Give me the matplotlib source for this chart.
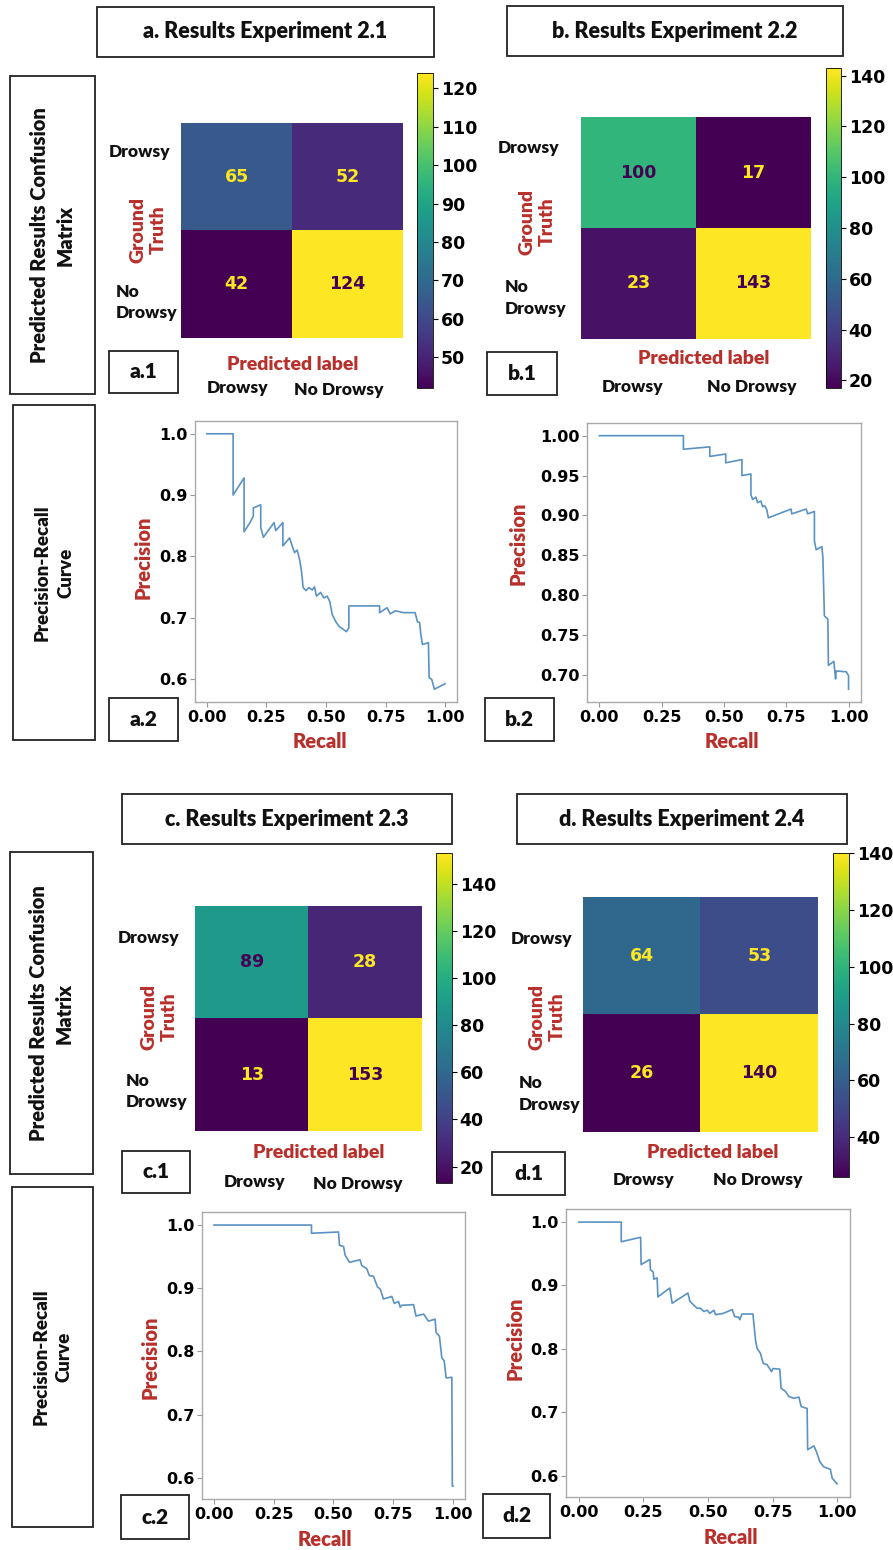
import numpy as np
import matplotlib
matplotlib.use("Agg")
import matplotlib.pyplot as plt
from matplotlib.patches import Rectangle
from matplotlib.ticker import MultipleLocator, StrMethodFormatter

plt.rcParams['font.family'] = ['DejaVu Sans']
plt.rcParams['font.weight'] = 'bold'

W, H = 893, 1550
RED = '#b8302c'
LINE = '#5a92c4'
LBL = ['Lato', 'DejaVu Sans']
WT = 'heavy'

# ---------------- data ----------------
titles = ["a. Results Experiment 2.1", "b. Results Experiment 2.2",
          "c. Results Experiment 2.3", "d. Results Experiment 2.4"]
class_labels = ["Drowsy", "No Drowsy"]

cm_21 = [[65, 52], [42, 124]]
cm_22 = [[100, 17], [23, 143]]
cm_23 = [[89, 28], [13, 153]]
cm_24 = [[64, 53], [26, 140]]

recall_21 = [0.000, 0.110, 0.110, 0.156, 0.156, 0.181, 0.195, 0.195, 0.226, 0.226,
             0.237, 0.282, 0.289, 0.319, 0.319, 0.347, 0.358, 0.368, 0.379, 0.390,
             0.397, 0.404, 0.416, 0.428, 0.442, 0.452, 0.460, 0.477, 0.491, 0.505,
             0.516, 0.526, 0.540, 0.554, 0.568, 0.586, 0.596, 0.596, 0.725, 0.725,
             0.756, 0.770, 0.791, 0.826, 0.874, 0.884, 0.893, 0.898, 0.905, 0.930,
             0.933, 0.944, 0.955, 1.000]
precision_21 = [1.000, 1.000, 0.900, 0.928, 0.840, 0.855, 0.866, 0.879, 0.884, 0.847,
                0.831, 0.855, 0.842, 0.855, 0.817, 0.830, 0.817, 0.806, 0.810, 0.793,
                0.776, 0.749, 0.744, 0.749, 0.745, 0.750, 0.735, 0.741, 0.732, 0.735,
                0.726, 0.705, 0.694, 0.686, 0.682, 0.677, 0.683, 0.719, 0.719, 0.708,
                0.716, 0.706, 0.711, 0.708, 0.708, 0.693, 0.692, 0.673, 0.656, 0.659,
                0.602, 0.599, 0.583, 0.592]

recall_22 = [0.000, 0.337, 0.337, 0.443, 0.443, 0.507, 0.507, 0.572, 0.572, 0.608,
             0.608, 0.615, 0.628, 0.635, 0.648, 0.655, 0.664, 0.672, 0.678, 0.769,
             0.772, 0.830, 0.836, 0.863, 0.863, 0.870, 0.893, 0.897, 0.903, 0.917,
             0.919, 0.941, 0.948, 0.950, 0.991, 1.000, 1.000]
precision_22 = [1.000, 1.000, 0.983, 0.986, 0.974, 0.977, 0.966, 0.970, 0.950, 0.952,
                0.926, 0.920, 0.923, 0.916, 0.918, 0.911, 0.912, 0.907, 0.897, 0.908,
                0.902, 0.908, 0.902, 0.905, 0.868, 0.857, 0.861, 0.847, 0.774, 0.770,
                0.712, 0.717, 0.695, 0.705, 0.704, 0.699, 0.682]

recall_23 = [0.000, 0.408, 0.408, 0.521, 0.525, 0.542, 0.549, 0.567, 0.611, 0.618,
             0.639, 0.650, 0.667, 0.684, 0.695, 0.709, 0.744, 0.754, 0.772, 0.779,
             0.786, 0.835, 0.845, 0.877, 0.897, 0.925, 0.929, 0.943, 0.953, 0.963,
             0.971, 0.995, 0.997, 1.000]
precision_23 = [1.000, 1.000, 0.987, 0.989, 0.968, 0.966, 0.952, 0.941, 0.945, 0.936,
                0.931, 0.920, 0.919, 0.902, 0.899, 0.883, 0.887, 0.876, 0.879, 0.870,
                0.873, 0.874, 0.856, 0.859, 0.848, 0.851, 0.830, 0.824, 0.790, 0.785,
                0.758, 0.759, 0.587, 0.587]

recall_24 = [0.000, 0.164, 0.164, 0.239, 0.241, 0.275, 0.277, 0.288, 0.290, 0.303,
             0.306, 0.352, 0.361, 0.422, 0.430, 0.445, 0.458, 0.471, 0.484, 0.497,
             0.507, 0.523, 0.529, 0.559, 0.594, 0.603, 0.619, 0.623, 0.632, 0.674,
             0.684, 0.690, 0.703, 0.714, 0.729, 0.746, 0.752, 0.778, 0.783, 0.800,
             0.813, 0.832, 0.852, 0.861, 0.884, 0.886, 0.910, 0.920, 0.933, 0.948,
             0.974, 0.981, 1.000]
precision_24 = [1.000, 1.000, 0.969, 0.976, 0.933, 0.941, 0.925, 0.921, 0.910, 0.912,
                0.882, 0.896, 0.872, 0.888, 0.875, 0.869, 0.864, 0.864, 0.859, 0.861,
                0.856, 0.861, 0.854, 0.856, 0.862, 0.851, 0.850, 0.846, 0.855, 0.855,
                0.814, 0.801, 0.793, 0.777, 0.775, 0.764, 0.769, 0.768, 0.738, 0.733,
                0.725, 0.722, 0.724, 0.709, 0.706, 0.641, 0.647, 0.638, 0.622, 0.614,
                0.610, 0.596, 0.587]

# ---------------- figure ----------------
fig = plt.figure(figsize=(W / 100, H / 100), dpi=100)
fig.patch.set_facecolor('white')
bg = fig.add_axes([0, 0, 1, 1])
bg.set_xlim(0, W)
bg.set_ylim(H, 0)
bg.axis('off')


def ax_px(x0, y0, x1, y1):
    return fig.add_axes([x0 / W, 1 - y1 / H, (x1 - x0) / W, (y1 - y0) / H])


def box(x0, y0, x1, y1, text=None, size=13, rot=0, ls=1.2):
    bg.add_patch(Rectangle((x0, y0), x1 - x0, y1 - y0, fill=False,
                           ec='#222222', lw=1.3))
    if text:
        bg.text((x0 + x1) / 2, (y0 + y1) / 2, text, ha='center', va='center',
                rotation=rot, fontsize=size, fontweight=WT, family=LBL,
                linespacing=ls, color='#111111')


def label(x, y, s, size=12, color='#111111', ha='center', rot=0, ls=1.2):
    bg.text(x, y, s, ha=ha, va='center', fontsize=size, fontweight=WT,
            family=LBL, color=color, rotation=rot, linespacing=ls)


def draw_cm(cm, img, cbx, step):
    cm = np.array(cm)
    ax = ax_px(*img)
    im = ax.imshow(cm, cmap='viridis', aspect='auto', vmin=cm.min(), vmax=cm.max())
    thresh = (cm.max() + cm.min()) / 2.0
    for i in range(2):
        for j in range(2):
            c = im.cmap(1.0) if cm[i, j] < thresh else im.cmap(0.0)
            ax.text(j, i, str(cm[i, j]), ha='center', va='center', color=c,
                    fontsize=12.5, fontweight='bold')
    ax.set_xticks([])
    ax.set_yticks([])
    for s in ax.spines.values():
        s.set_visible(False)
    cax = ax_px(*cbx)
    cb = fig.colorbar(im, cax=cax)
    cb.locator = MultipleLocator(step)
    cb.update_ticks()
    cb.outline.set_linewidth(0.6)
    cax.tick_params(labelsize=12.5, length=3.5, width=0.8, pad=2)


def draw_pr(rec, prec, bx, ystep, yfmt):
    ax = ax_px(*bx)
    ax.plot(rec, prec, color=LINE, lw=1.2)
    ax.xaxis.set_major_locator(MultipleLocator(0.25))
    ax.yaxis.set_major_locator(MultipleLocator(ystep))
    ax.xaxis.set_major_formatter(StrMethodFormatter('{x:.2f}'))
    ax.yaxis.set_major_formatter(StrMethodFormatter(yfmt))
    ax.tick_params(labelsize=11.5, color='#999999', length=3.5, width=0.8, pad=2)
    for s in ax.spines.values():
        s.set_color('#aaaaaa')
        s.set_linewidth(1.0)
    return ax


# titles
box(97, 7, 434, 57, titles[0], size=15.5)
box(507, 6, 843, 56, titles[1], size=15.5)
box(122, 794, 452, 844, titles[2], size=15.5)
box(517, 794, 847, 844, titles[3], size=15.5)

# row side boxes
SIDE = "Predicted Results Confusion\nMatrix"
box(10, 76, 95, 394, SIDE, size=14.5, rot=90, ls=1.4)
box(13, 405, 95, 740, "Precision-Recall\nCurve", size=13.5, rot=90, ls=1.45)
box(10, 852, 93, 1174, SIDE, size=14.5, rot=90, ls=1.4)
box(12, 1187, 93, 1527, "Precision-Recall\nCurve", size=13.5, rot=90, ls=1.45)

# sub-label boxes
for (x0, y0, x1, y1, s) in [(109, 351, 178, 393, "a.1"), (487, 352, 557, 395, "b.1"),
                            (122, 1151, 190, 1193, "c.1"), (492, 1152, 565, 1195, "d.1"),
                            (109, 698, 178, 741, "a.2"), (485, 698, 554, 741, "b.2"),
                            (121, 1495, 189, 1539, "c.2"), (483, 1494, 550, 1538, "d.2")]:
    box(x0, y0, x1, y1, s, size=15)

# confusion matrices
draw_cm(cm_21, (181, 123, 403, 338), (417, 73, 433, 388), 10)
draw_cm(cm_22, (581, 117, 811, 339), (826, 68, 841, 388), 20)
draw_cm(cm_23, (195, 906, 422, 1131), (436, 853, 452, 1183), 20)
draw_cm(cm_24, (583, 897, 818, 1132), (833, 853, 849, 1177), 20)

# confusion matrix labels
cm_text = [
    ((140, 152), (116, 292, 313), (148, 230), (293, 364), (238, 388), (339, 390)),
    ((529, 148), (505, 287, 309), (537, 222), (704, 359), (633, 387), (752, 387)),
    ((149, 938), (126, 1081, 1102), (159, 1017), (319, 1152), (255, 1182), (358, 1184)),
    ((542, 939), (519, 1083, 1105), (547, 1017), (713, 1152), (644, 1180), (758, 1180)),
]
for (dr, nd, gt, pl, xd, xn) in cm_text:
    label(dr[0], dr[1], class_labels[0], size=12.5)
    label(nd[0], nd[1], "No", ha='left', size=12.5)
    label(nd[0], nd[2], class_labels[0], ha='left', size=12.5)
    label(gt[0], gt[1], "Ground\nTruth", size=14, color=RED, rot=90, ls=1.2)
    label(pl[0], pl[1], "Predicted label", size=14, color=RED)
    label(xd[0], xd[1], class_labels[0], size=12.5)
    label(xn[0], xn[1], class_labels[1], size=12.5)

# precision-recall curves
draw_pr(recall_21, precision_21, (195, 421, 457, 702), 0.1, '{x:.1f}')
draw_pr(recall_22, precision_22, (587, 423, 861, 702), 0.05, '{x:.2f}')
draw_pr(recall_23, precision_23, (202, 1212, 465, 1499), 0.1, '{x:.1f}')
draw_pr(recall_24, precision_24, (566, 1209, 850, 1497), 0.1, '{x:.1f}')

for (px, py, rx, ry) in [(143, 557, 320, 741), (518, 543, 732, 741),
                         (150, 1357, 325, 1540), (515, 1338, 731, 1537)]:
    label(px, py, "Precision", size=14.5, color=RED, rot=90)
    label(rx, ry, "Recall", size=14.5, color=RED)

fig.savefig("out.png", dpi=100, facecolor='white')
